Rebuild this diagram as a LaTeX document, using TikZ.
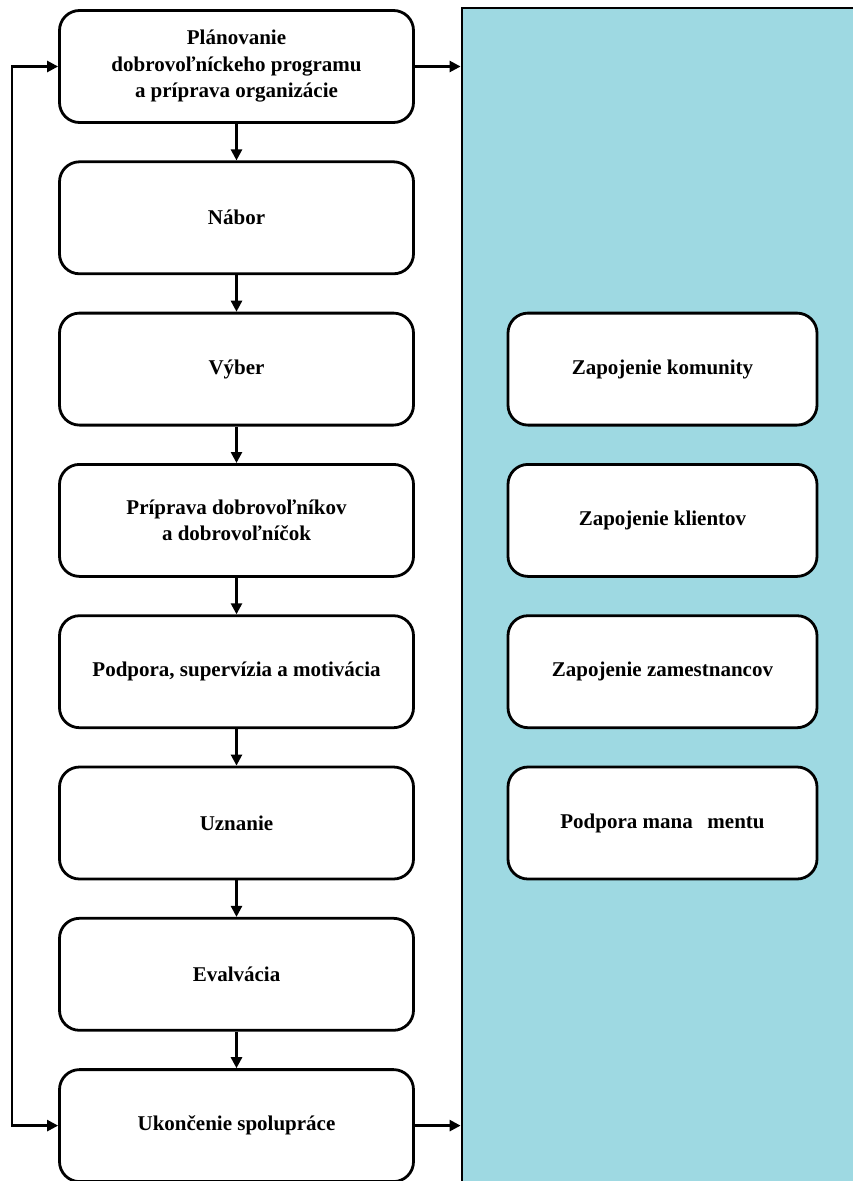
\documentclass[tikz,border=0pt]{standalone}
\usepackage{fontspec}
\setmainfont{Liberation Serif}
\usetikzlibrary{arrows.meta,calc}
\definecolor{panelteal}{RGB}{158,217,226}
\begin{document}
\begin{tikzpicture}[x=1pt,y=-1pt,
  stagebox/.style={draw=black,line width=2.8pt,fill=white,rounded corners=20pt,
    minimum width=354pt,minimum height=112pt,align=center,
    font=\fontsize{21}{26.5}\selectfont\bfseries},
  sidebox/.style={stagebox,minimum width=309pt},
  panelbox/.style={draw=black,line width=2.8pt,fill=panelteal,minimum width=420pt,minimum height=1200pt,inner sep=0pt},
  arr/.style={line width=2.5pt,-{Triangle[length=11pt,width=11pt]}}]
\useasboundingbox (0,0) rectangle (853,1181);
\clip (0,0) rectangle (853,1181);

% shaded panel on the right
\node[panelbox] (panel) at (672,608) {};

% main sequence of stages
\node[stagebox] (b1) at (236.5,66.5) {Plánovanie\\dobrovoľníckeho programu\\a príprava organizácie};
\node[stagebox] (b2) at (236.5,217.8) {Nábor};
\node[stagebox] (b3) at (236.5,369.1) {Výber};
\node[stagebox] (b4) at (236.5,520.4) {Príprava dobrovoľníkov\\a dobrovoľníčok};
\node[stagebox] (b5) at (236.5,671.7) {Podpora, supervízia a motivácia};
\node[stagebox] (b6) at (236.5,823.0) {Uznanie};
\node[stagebox] (b7) at (236.5,974.3) {Evalvácia};
\node[stagebox] (b8) at (236.5,1125.6) {Ukončenie spolupráce};

% supporting elements inside the panel
\node[sidebox] (s1) at (662.5,369.1) {Zapojenie komunity};
\node[sidebox] (s2) at (662.5,520.4) {Zapojenie klientov};
\node[sidebox] (s3) at (662.5,671.7) {Zapojenie zamestnancov};
\node[sidebox] (s4) at (662.5,823.0) {Podpora mana\hspace{0.7em}mentu};

% arrows between consecutive stages
\foreach \a/\b in {b1/b2,b2/b3,b3/b4,b4/b5,b5/b6,b6/b7,b7/b8}
  \draw[arr] (\a.south) -- (\b.north);

% feedback line along the left edge
\coordinate (loop) at (12,600);
\draw[arr] (loop) |- (b1.west);
\draw[arr] (loop) |- (b8.west);

% arrows into the panel
\draw[arr] (b1.east) -- (b1.east -| panel.west);
\draw[arr] (b8.east) -- (b8.east -| panel.west);
\end{tikzpicture}
\end{document}
